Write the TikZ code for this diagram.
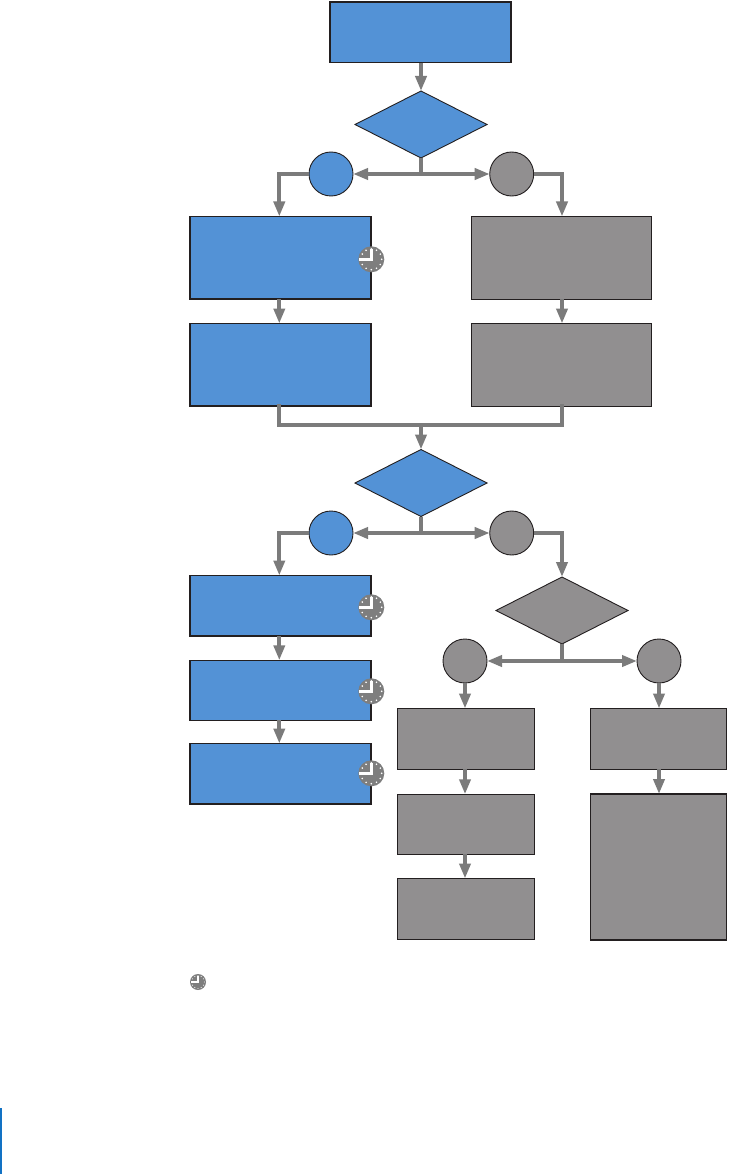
\documentclass[tikz,border=0pt]{standalone}
\usetikzlibrary{shapes.geometric,arrows.meta}
\definecolor{fblue}{HTML}{5392D6}
\definecolor{fgray}{HTML}{918F90}
\definecolor{arrowgray}{HTML}{7B7B7B}
\definecolor{edgeblack}{HTML}{231F20}
\definecolor{clockgray}{HTML}{7E7E7E}
\definecolor{barblue}{HTML}{1272C4}
\tikzset{
  x=1pt,y=-1pt,
  boxbase/.style={draw=edgeblack,line width=0.9pt,inner sep=0pt,outer sep=0pt},
  rectbox/.style n args={3}{boxbase,rectangle,minimum width=#1,minimum height=#2,fill=#3},
  bluebox/.style 2 args={rectbox={#1}{#2}{fblue},line width=1.4pt},
  graybox/.style 2 args={rectbox={#1}{#2}{fgray}},
  dia/.style={boxbase,diamond,minimum width=132pt,minimum height=67pt,fill=#1},
  circ/.style={boxbase,circle,minimum size=44pt,fill=#1},
  flow/.style={draw=arrowgray,line width=4.2pt,-{Triangle[length=15pt,width=11pt]}},
  trunk/.style={draw=arrowgray,line width=4.2pt},
  clockdisc/.style={circle,fill=clockgray,inner sep=0pt,outer sep=0pt,minimum size=#1}
}
\newcommand{\clockat}[4]{% name, x, y, radius
  \node[clockdisc=2*#4 pt] (#1) at (#2,#3) {};
  \foreach \a in {0,30,...,330}
    \fill[white] (#1.center) ++(\a:0.8*#4) circle[radius=0.07*#4];
  \draw[white,line width=0.19*#4 pt] (#1.center) -- ++(0,-0.8*#4);
  \draw[white,line width=0.19*#4 pt,line cap=rect] (#1.center) -- ++(-0.82*#4,0);
}
\begin{document}
\begin{tikzpicture}
\useasboundingbox (0,0) rectangle (730,1174);
% column guides
\coordinate (lx) at (279.3,0);
\coordinate (rx) at (562,0);
% nodes
\node[bluebox={181pt}{60.5pt},line width=1.6pt] (start) at (420.5,32.3) {};
\node[dia=fblue] (d1) at (421,124.5) {};
\node[circ=fblue] (c1l) at (331,174) {};
\node[circ=fgray] (c1r) at (511.7,174) {};
\node[bluebox={181pt}{82.5pt}] (l1) at (280.5,257.75) {};
\node[bluebox={181pt}{82.5pt}] (l2) at (280.5,364.75) {};
\node[graybox={180pt}{82.5pt}] (r1) at (561,257.75) {};
\node[graybox={180pt}{82.5pt}] (r2) at (561,364.75) {};
\node[dia=fblue] (d2) at (421,483) {};
\node[circ=fblue] (c2l) at (331,533) {};
\node[circ=fgray] (c2r) at (511.7,533) {};
\node[bluebox={181pt}{60.5pt}] (l3) at (280.5,605.75) {};
\node[bluebox={181pt}{60pt}] (l4) at (280.5,690.25) {};
\node[bluebox={181pt}{60.5pt}] (l5) at (280.5,773.75) {};
\node[dia=fgray] (d3) at (562,610.5) {};
\node[circ=fgray] (c3l) at (465,661) {};
\node[circ=fgray] (c3r) at (659,661) {};
\node[graybox={137pt}{60.5pt}] (m1) at (466,738.75) {};
\node[graybox={137pt}{60pt}] (m2) at (466,824.25) {};
\node[graybox={137pt}{60.5pt}] (m3) at (466,908.75) {};
\node[graybox={136pt}{60.5pt}] (n1) at (658.7,738.75) {};
\node[graybox={136pt}{146pt},line width=1.15pt] (n2) at (658.7,867) {};
% junctions
\coordinate (j1) at (d1.south |- c1l.east);
\coordinate (j2) at (d2.south |- c2l.east);
\coordinate (j3) at (d3.south |- c3l.east);
\coordinate (merge) at (d2.north |- 0,425);
% connectors
\draw[flow] (start.south -| d1.north) -- (d1.north);
\draw[trunk] (d1.south) -- (j1);
\draw[flow] (j1) -- (c1l.east);
\draw[flow] (j1) -- (c1r.west);
\draw[flow] (c1l.west) -| (l1.north -| lx);
\draw[flow] (c1r.east) -| (r1.north -| rx);
\draw[flow] (l1.south -| lx) -- (l2.north -| lx);
\draw[flow] (r1.south -| rx) -- (r2.north -| rx);
\draw[trunk,line cap=rect] (l2.south -| lx) |- (merge) -| (r2.south -| rx);
\draw[flow] (merge) -- (d2.north);
\draw[trunk] (d2.south) -- (j2);
\draw[flow] (j2) -- (c2l.east);
\draw[flow] (j2) -- (c2r.west);
\draw[flow] (c2l.west) -| (l3.north -| lx);
\draw[flow] (c2r.east) -| (d3.north);
\draw[flow] (l3.south -| lx) -- (l4.north -| lx);
\draw[flow] (l4.south -| lx) -- (l5.north -| lx);
\draw[trunk] (d3.south) -- (j3);
\draw[flow] (j3) -- (c3l.east);
\draw[flow] (j3) -- (c3r.west);
\draw[flow] (c3l.south) -- (c3l.south |- m1.north);
\draw[flow] (c3r.south) -- (c3r.south |- n1.north);
\draw[flow] (m1.south -| c3l.south) -- (m2.north -| c3l.south);
\draw[flow] (m2.south -| c3l.south) -- (m3.north -| c3l.south);
\draw[flow] (n1.south -| c3r.south) -- (n2.north -| c3r.south);
% clocks
\clockat{k1}{371.3}{259.3}{13}
\clockat{k2}{371.3}{607.3}{13}
\clockat{k3}{371.3}{691.3}{13}
\clockat{k4}{371.3}{773.3}{13}
\clockat{k5}{198}{982}{8}
% margin bar
\fill[barblue] (0,1108) rectangle (2,1174);
\end{tikzpicture}
\end{document}
